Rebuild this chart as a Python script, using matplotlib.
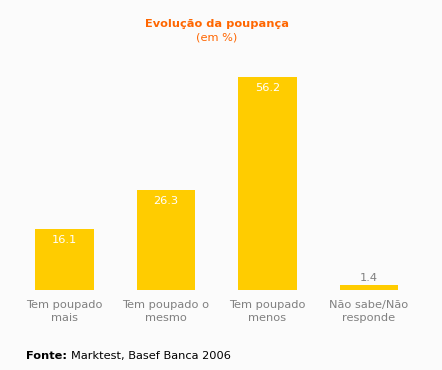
import matplotlib
matplotlib.use("Agg")
import matplotlib.pyplot as plt

categories = ["Tem poupado\nmais", "Tem poupado o\nmesmo", "Tem poupado\nmenos", "Não sabe/Não\nresponde"]
values = [16.1, 26.3, 56.2, 1.4]
labels = ["16.1", "26.3", "56.2", "1.4"]

W, H = 442, 370
bg = "#FBFBFB"
bar_color = "#FFCC00"
orange = "#FF6600"
gray = "#808080"
fs = 8.2

fig = plt.figure(figsize=(W / 100, H / 100), dpi=100, facecolor=bg)
# axes: x from 13.75 to 419.75 px, y from 63 to 290 px
ax = fig.add_axes([13.75 / W, 1 - 290 / H, (419.75 - 13.75) / W, (290 - 63) / H])
ax.set_facecolor(bg)
x = list(range(len(categories)))
ax.bar(x, values, width=0.58, color=bar_color)
ax.set_xlim(-0.5, 3.5)
ax.set_ylim(0, 60)
for s in ax.spines.values():
    s.set_visible(False)
ax.set_yticks([])
ax.set_xticks(x)
ax.set_xticklabels(categories, color=gray, fontsize=fs, linespacing=1.45)
ax.tick_params(axis="x", length=0, pad=7)

for xi, v, lab in zip(x, values, labels):
    if v > 5:
        ax.annotate(lab, (xi, v), xytext=(0, -4), textcoords="offset points",
                    ha="center", va="top", color="white", fontsize=fs)
    else:
        ax.annotate(lab, (xi, v), xytext=(0, 1), textcoords="offset points",
                    ha="center", va="bottom", color=gray, fontsize=fs)

fig.text(217 / W, 1 - 24 / H, "Evolução da poupança", ha="center", va="center",
         color=orange, fontsize=fs, fontweight="bold")
fig.text(217 / W, 1 - 38 / H, "(em %)", ha="center", va="center",
         color=orange, fontsize=fs)

t = fig.text(26 / W, 1 - 356 / H, "Fonte:", ha="left", va="center",
             color="black", fontsize=fs, fontweight="bold")
fig.canvas.draw()
bb = t.get_window_extent()
fig.text((bb.x1 + 4) / W, 1 - 356 / H, "Marktest, Basef Banca 2006", ha="left", va="center",
         color="black", fontsize=fs)

fig.savefig("out.png", dpi=100, facecolor=bg)
